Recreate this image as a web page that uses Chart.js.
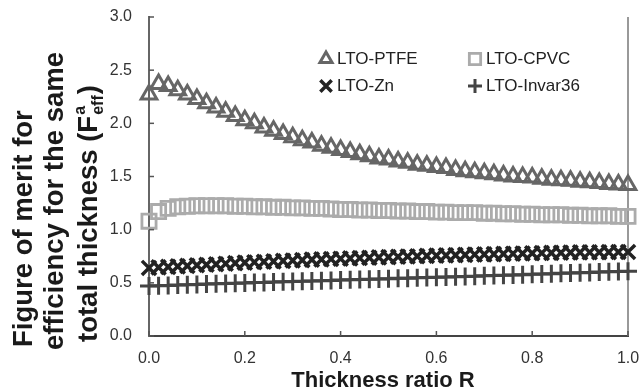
<!DOCTYPE html>
<html>
<head>
<meta charset="utf-8">
<script src="https://cdn.jsdelivr.net/npm/chart.js@4"></script>
<style>
  html, body { margin: 0; padding: 0; background: #fff; }
  #wrap { width: 642px; height: 391px; position: relative; }
</style>
</head>
<body>
<div id="wrap"><canvas id="meritChart" width="642" height="391"></canvas></div>
<script>
// thickness ratio R (x values)
const ratioR = [0, 0.02, 0.04, 0.06, 0.08, 0.10, 0.12, 0.14, 0.16, 0.18,
                0.20, 0.22, 0.24, 0.26, 0.28, 0.30, 0.32, 0.34, 0.36, 0.38,
                0.40, 0.42, 0.44, 0.46, 0.48, 0.50, 0.52, 0.54, 0.56, 0.58,
                0.60, 0.62, 0.64, 0.66, 0.68, 0.70, 0.72, 0.74, 0.76, 0.78,
                0.80, 0.82, 0.84, 0.86, 0.88, 0.90, 0.92, 0.94, 0.96, 0.98, 1.00];

const ltoPtfe = [2.27, 2.37, 2.35, 2.31, 2.27, 2.23, 2.19, 2.15, 2.11, 2.07,
                 2.03, 2.00, 1.96, 1.93, 1.90, 1.87, 1.84, 1.82, 1.79, 1.77,
                 1.75, 1.73, 1.71, 1.69, 1.67, 1.66, 1.64, 1.63, 1.61, 1.60,
                 1.59, 1.58, 1.56, 1.55, 1.54, 1.53, 1.52, 1.51, 1.50, 1.495,
                 1.49, 1.48, 1.47, 1.465, 1.46, 1.45, 1.445, 1.44, 1.43, 1.425, 1.42];

const ltoCpvc = [1.08, 1.17, 1.20, 1.215, 1.22, 1.225, 1.225, 1.225, 1.225, 1.22,
                 1.22, 1.215, 1.215, 1.21, 1.21, 1.205, 1.205, 1.20, 1.20, 1.195,
                 1.19, 1.19, 1.185, 1.185, 1.18, 1.18, 1.175, 1.175, 1.17, 1.17,
                 1.165, 1.165, 1.16, 1.16, 1.16, 1.155, 1.155, 1.15, 1.15, 1.145,
                 1.145, 1.14, 1.14, 1.14, 1.135, 1.135, 1.13, 1.13, 1.13, 1.125, 1.125];

const ltoZn = [0.64, 0.645, 0.65, 0.655, 0.66, 0.665, 0.67, 0.675, 0.68, 0.685,
               0.69, 0.694, 0.698, 0.702, 0.706, 0.71, 0.714, 0.718, 0.721, 0.724,
               0.727, 0.73, 0.733, 0.736, 0.739, 0.742, 0.745, 0.748, 0.75, 0.753,
               0.756, 0.758, 0.761, 0.763, 0.766, 0.768, 0.77, 0.772, 0.774, 0.776,
               0.778, 0.78, 0.782, 0.783, 0.785, 0.786, 0.787, 0.788, 0.789, 0.79, 0.79];

const ltoInvar = [0.47, 0.473, 0.476, 0.479, 0.482, 0.485, 0.488, 0.491, 0.493, 0.496,
                  0.499, 0.502, 0.504, 0.507, 0.510, 0.512, 0.515, 0.518, 0.520, 0.523,
                  0.526, 0.528, 0.531, 0.534, 0.536, 0.539, 0.542, 0.544, 0.547, 0.550,
                  0.552, 0.555, 0.558, 0.560, 0.563, 0.566, 0.568, 0.571, 0.574, 0.577,
                  0.580, 0.583, 0.586, 0.589, 0.592, 0.595, 0.598, 0.601, 0.604, 0.607, 0.610];

const seriesNames = ['LTO-PTFE', 'LTO-CPVC', 'LTO-Zn', 'LTO-Invar36'];
const xTickValues = [0, 0.2, 0.4, 0.6, 0.8, 1.0];
const yTickValues = [0, 0.5, 1.0, 1.5, 2.0, 2.5, 3.0];

const FONT = '"Liberation Sans", Arial, sans-serif';

function toPoints(vals) {
    return vals.map((v, i) => ({ x: ratioR[i], y: v }));
}

// marker look per series
const looks = [
    { style: 'triangle', color: '#666666', radius: 9, width: 3 },
    { style: 'rect',     color: '#ababab', radius: 10, width: 2.8 },
    { style: 'crossRot', color: '#222222', radius: 10, width: 3.5 },
    { style: 'cross',    color: '#444444', radius: 9, width: 3 }
];
const seriesData = [ltoPtfe, ltoCpvc, ltoZn, ltoInvar];

// legend inside the plot, axis ticks pointing in, titles with sub/superscript
const extras = {
    id: 'extras',
    beforeDatasetsDraw(chart) {
        const { ctx, chartArea: a } = chart;
        ctx.save();
        ctx.strokeStyle = '#999';
        ctx.lineWidth = 2;
        ctx.beginPath();
        ctx.moveTo(a.right, a.top);
        ctx.lineTo(a.right, a.bottom);
        ctx.stroke();
        ctx.restore();
    },
    afterDraw(chart) {
        const { ctx, chartArea: a, scales: { x, y } } = chart;
        ctx.save();

        // inward tick marks
        ctx.strokeStyle = '#555';
        ctx.lineWidth = 1.5;
        yTickValues.forEach(v => {
            const py = y.getPixelForValue(v);
            ctx.beginPath();
            ctx.moveTo(a.left, py);
            ctx.lineTo(a.left + 5, py);
            ctx.stroke();
        });
        xTickValues.forEach(v => {
            const px = x.getPixelForValue(v);
            ctx.beginPath();
            ctx.moveTo(px, a.bottom);
            ctx.lineTo(px, a.bottom - 5);
            ctx.stroke();
        });

        // legend (2 x 2)
        const spots = [[326, 59], [475, 59], [326, 86], [475, 86]];
        ctx.font = '17px ' + FONT;
        ctx.textBaseline = 'middle';
        ctx.textAlign = 'left';
        looks.forEach((lk, i) => {
            const [mx, my] = spots[i];
            ctx.strokeStyle = lk.color;
            ctx.fillStyle = 'rgba(0,0,0,0)';
            ctx.lineWidth = lk.width;
            Chart.helpers.drawPoint(ctx, {
                pointStyle: lk.style, radius: lk.radius - 2, rotation: 0, borderWidth: lk.width
            }, mx, my);
            ctx.fillStyle = '#222';
            ctx.fillText(seriesNames[i], mx + 11, my);
        });

        // x title
        ctx.fillStyle = '#1a1a1a';
        ctx.font = 'bold 22px ' + FONT;
        ctx.textAlign = 'center';
        ctx.textBaseline = 'alphabetic';
        ctx.fillText('Thickness ratio R', 383, 387);

        // y title, three rotated lines
        const big = 'bold 27.5px ' + FONT;
        const small = 'bold 16px ' + FONT;
        function rotLine(bx, startY, draw) {
            ctx.save();
            ctx.translate(bx, startY);
            ctx.rotate(-Math.PI / 2);
            ctx.textAlign = 'left';
            draw();
            ctx.restore();
        }
        rotLine(32, 347, () => { ctx.font = big; ctx.fillText('Figure of merit for', 0, 0); });
        rotLine(63, 350, () => { ctx.font = big; ctx.fillText('efficiency for the same', 0, 0); });
        rotLine(97, 342, () => {
            ctx.font = big;
            const head = 'total thickness (F';
            ctx.fillText(head, 0, 0);
            let w = ctx.measureText(head).width + 1;
            ctx.font = small;
            ctx.fillText('a', w, -12);
            ctx.fillText('eff', w, 6);
            w += ctx.measureText('eff').width + 1;
            ctx.font = big;
            ctx.fillText(')', w, 0);
        });

        ctx.restore();
    }
};

const ctx = document.getElementById('meritChart').getContext('2d');

const meritChart = new Chart(ctx, {
    type: 'scatter',
    data: {
        datasets: looks.map((lk, i) => ({
            label: seriesNames[i],
            data: toPoints(seriesData[i]),
            showLine: false,
            pointStyle: lk.style,
            pointRadius: lk.radius,
            pointHoverRadius: lk.radius,
            pointBorderWidth: lk.width,
            pointBorderColor: lk.color,
            pointBackgroundColor: 'rgba(0,0,0,0)',
            borderColor: lk.color,
            clip: false
        }))
    },
    options: {
        responsive: false,
        animation: false,
        devicePixelRatio: 1,
        layout: { padding: { top: 17, right: 14, left: 0, bottom: 0 } },
        plugins: {
            legend: { display: false },
            tooltip: { enabled: false }
        },
        scales: {
            x: {
                type: 'linear',
                min: 0,
                max: 1,
                afterBuildTicks: s => { s.ticks = xTickValues.map(v => ({ value: v })); },
                afterFit: s => { s.height = 55; s.paddingLeft = 0; s.paddingRight = 0; },
                grid: { display: false, drawTicks: false },
                border: { display: true, color: '#444', width: 2 },
                ticks: {
                    padding: 13,
                    color: '#333',
                    font: { family: FONT, size: 16 },
                    maxRotation: 0,
                    callback: v => Number(v).toFixed(1)
                }
            },
            y: {
                min: 0,
                max: 3,
                afterBuildTicks: s => { s.ticks = yTickValues.map(v => ({ value: v })); },
                afterFit: s => { s.width = 149; s.paddingTop = 0; s.paddingBottom = 0; },
                grid: { display: false, drawTicks: false },
                border: { display: true, color: '#666', width: 2 },
                ticks: {
                    padding: 17,
                    color: '#333',
                    font: { family: FONT, size: 16 },
                    callback: v => Number(v).toFixed(1)
                }
            }
        }
    },
    plugins: [extras]
});
</script>
</body>
</html>
